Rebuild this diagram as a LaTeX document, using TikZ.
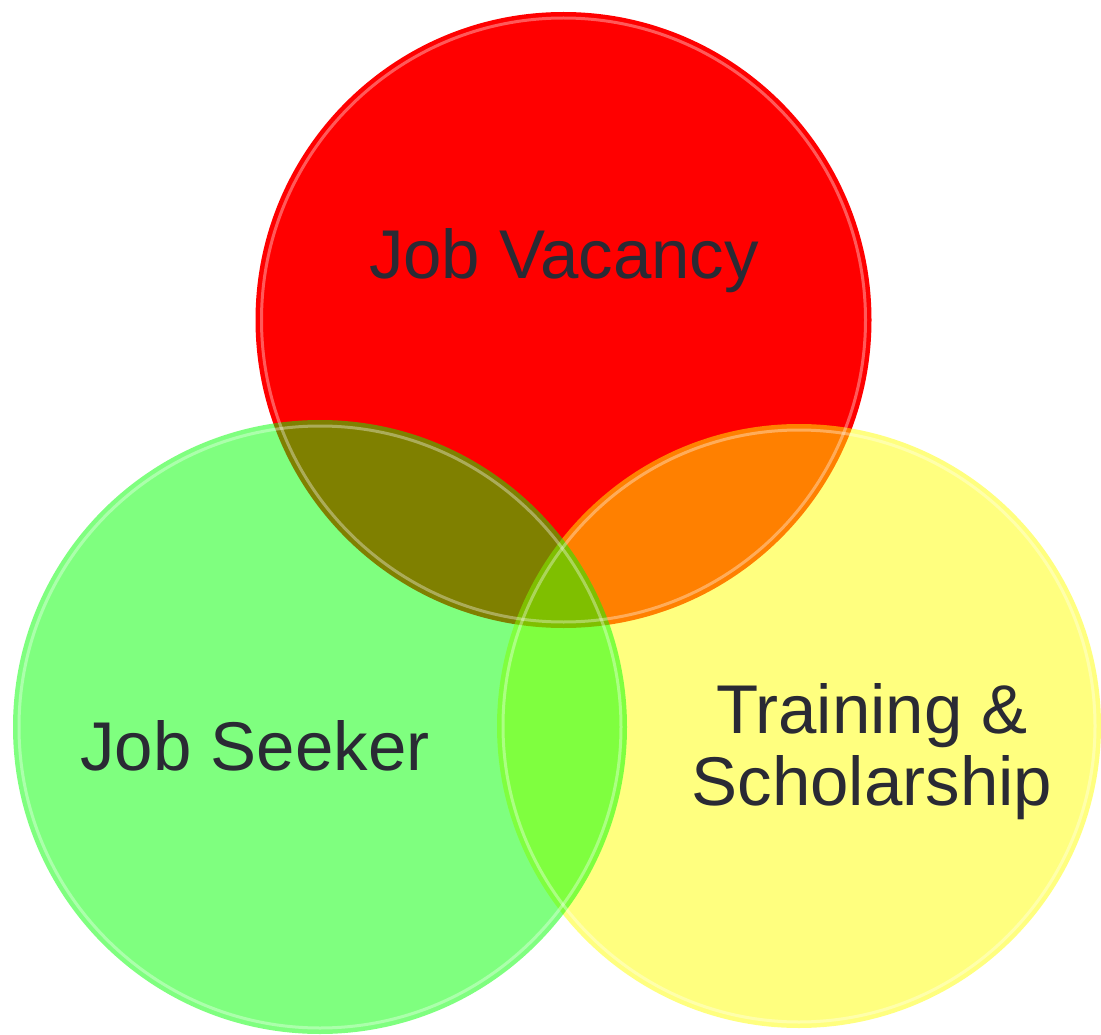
\documentclass[tikz,border=0pt]{standalone}
\usepackage{fontspec}
\setmainfont{Liberation Sans}
\definecolor{txt}{RGB}{42,42,52}
\tikzset{
  venn/.style={circle, inner sep=0pt, minimum size=#1},
  rim/.style={draw=white, line width=3pt, draw opacity=0.35},
  lbl/.style={text=txt, inner sep=0pt, font=\fontsize{69}{72}\selectfont, align=center}
}
\begin{document}
\begin{tikzpicture}[x=1pt,y=-1pt]
\useasboundingbox (0,0) rectangle (1101,1035);
% circles
\node[venn=616pt, fill={rgb,255:red,255;green,0;blue,0}] (red) at (563.5,320) {};
\node[venn=604pt, fill={rgb,255:red,255;green,255;blue,0}, fill opacity=0.5] (yellow) at (799,726) {};
\node[venn=614pt, fill={rgb,255:red,0;green,255;blue,0}, fill opacity=0.5] (green) at (320,727) {};
% bevel highlights
\draw[rim] (red.center) circle[radius=302];
\draw[rim] (yellow.center) circle[radius=296];
\draw[rim] (green.center) circle[radius=301];
% labels
\node[lbl, anchor=base] (jv) at (564,279) {Job Vacancy};
\node[lbl, anchor=base] (js) at (255,770) {Job Seeker};
\node[lbl] (ts) at (872,752) {Training \&\\Scholarship};
\end{tikzpicture}
\end{document}
